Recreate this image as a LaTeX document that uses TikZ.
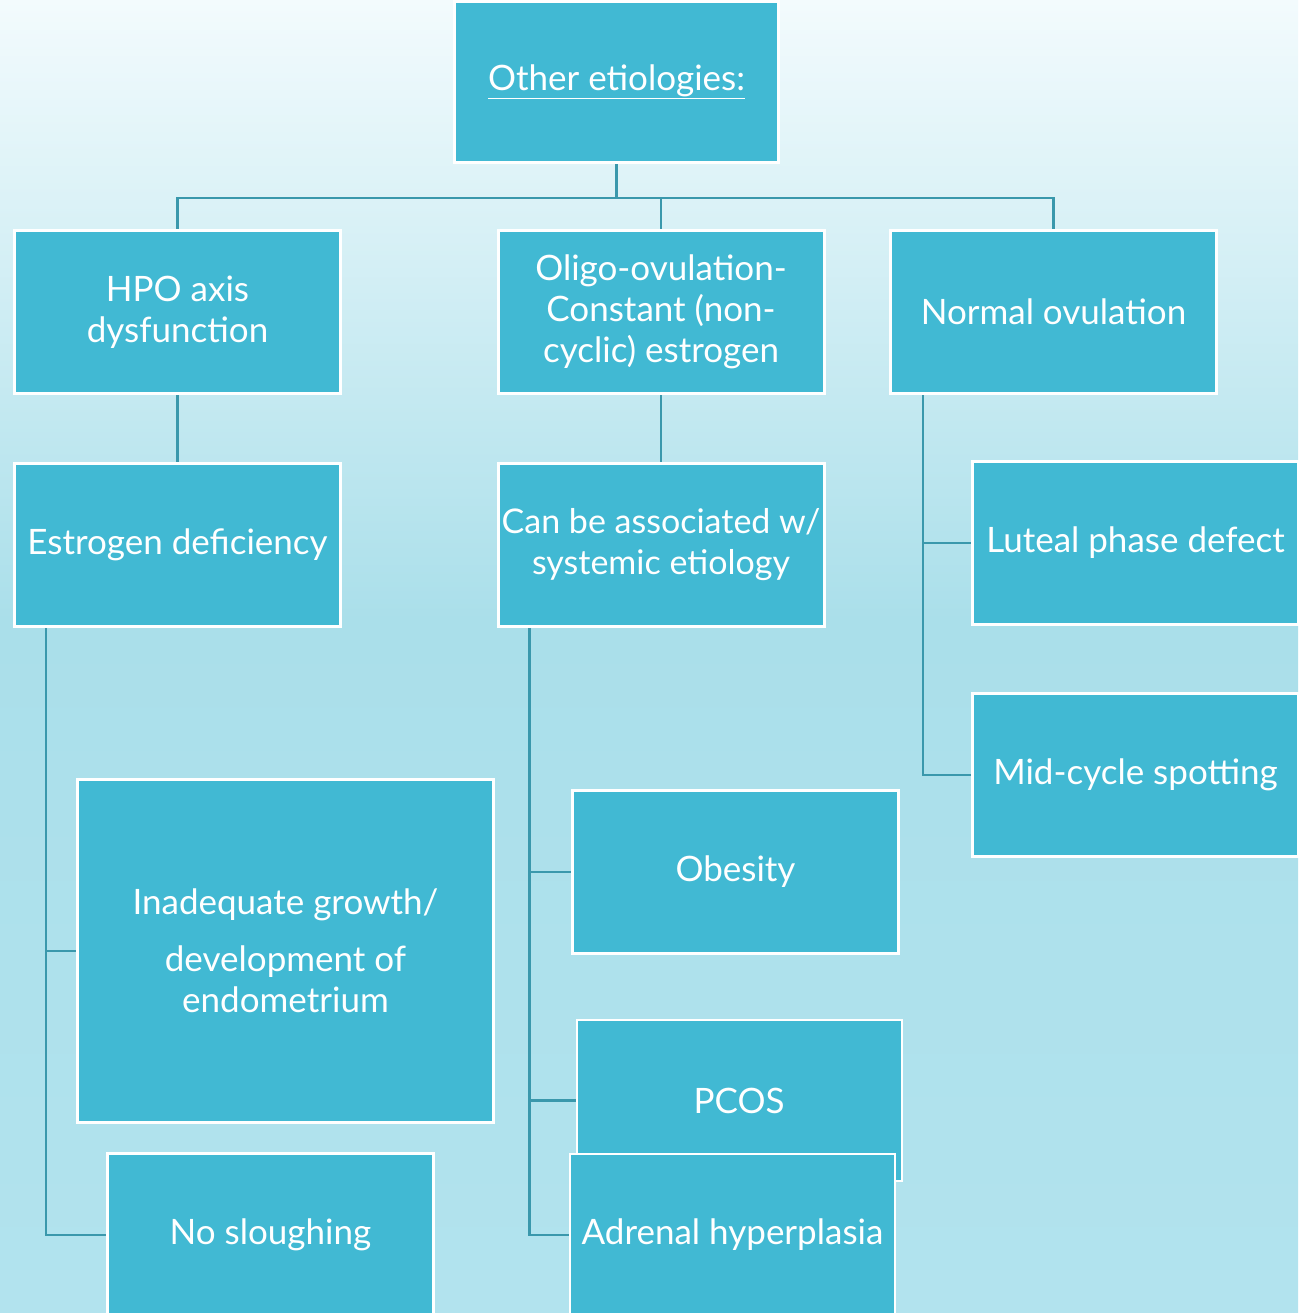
\documentclass[tikz,border=0pt]{standalone}
\usepackage{fontspec}
\setmainfont{Lato}
\usetikzlibrary{positioning}
\definecolor{boxblue}{HTML}{41B9D3}
\definecolor{linkteal}{HTML}{3A98AC}
\definecolor{bgtop}{HTML}{F3FBFD}
\definecolor{bgmid}{HTML}{AADFEA}
\definecolor{bgbot}{HTML}{B2E3EE}
\begin{document}
\begin{tikzpicture}
    [x=1pt,y=-1pt,
     cause/.style={rectangle,draw=white,line width=2pt,fill=boxblue,text=white,
       minimum width=325pt,minimum height=162pt,inner sep=0pt,align=center,
       font=\fontsize{35}{41}\selectfont},
     link/.style={draw=linkteal,line width=2.2pt}]
    \useasboundingbox (0,0) rectangle (1298,1313);
    \shade[top color=bgtop,bottom color=bgmid] (0,0) rectangle (1298,620);
    \shade[top color=bgmid,bottom color=bgbot] (0,620) rectangle (1298,1313);

    \node[cause,minimum width=323pt,minimum height=160pt] (other) at (616.5,82) {\underline{Other etiologies:}};

    \node[cause] (hpo) at (177.5,312) {HPO axis\\dysfunction};
    \node[cause] (oligo) at (661,312) {Oligo-ovulation-\\Constant (non-\\cyclic) estrogen};
    \node[cause] (normal) at (1053.5,312) {Normal ovulation};

    \node[cause] (estrogen) [below=69pt of hpo] {Estrogen deficiency};
    \node[cause,font=\fontsize{34}{41}\selectfont] (systemic) [below=69pt of oligo] {Can be associated w/\\systemic etiology};
    \node[cause] (luteal) at (1135.5,543) {Luteal phase defect};
    \node[cause] (midcycle) [below=68pt of luteal] {Mid-cycle spotting};

    \node[cause,minimum width=415pt,minimum height=342pt] (growth) at (285.5,951) {Inadequate growth/\\[16pt]development of\\endometrium};
    \node[cause] (slough) at (270.5,1235) {No sloughing};

    \node[cause] (obesity) at (735.5,872) {Obesity};
    \node[cause,minimum height=161pt] (pcos) at (739,1100.5) {PCOS};
    \node[cause] (adrenal) at (732.5,1235) {Adrenal hyperplasia};

    \draw[link] (other.south) -- ++(0,35) -| (hpo.north);
    \draw[link] (other.south) ++(0,35) -| (oligo.north);
    \draw[link] (other.south) ++(0,35) -| (normal.north);
    \draw[link] (hpo) -- (estrogen);
    \draw[link] (oligo) -- (systemic);

    \draw[link] ([xshift=32pt]estrogen.south west) |- (growth.west);
    \draw[link] ([xshift=32pt]estrogen.south west) |- (slough.west);

    \draw[link] ([xshift=32pt]systemic.south west) |- (obesity.west);
    \draw[link] ([xshift=32pt]systemic.south west) |- (pcos.west);
    \draw[link] ([xshift=32pt]systemic.south west) |- (adrenal.west);

    \draw[link] ([xshift=33pt]normal.south west) |- (luteal.west);
    \draw[link] ([xshift=33pt]normal.south west) |- (midcycle.west);

    % boxes over the links
    \foreach \n in {other,hpo,oligo,normal,estrogen,systemic,growth,slough,obesity,luteal,midcycle}
      \draw[white,line width=2pt] (\n.south west) rectangle (\n.north east);
\end{tikzpicture}
\end{document}
